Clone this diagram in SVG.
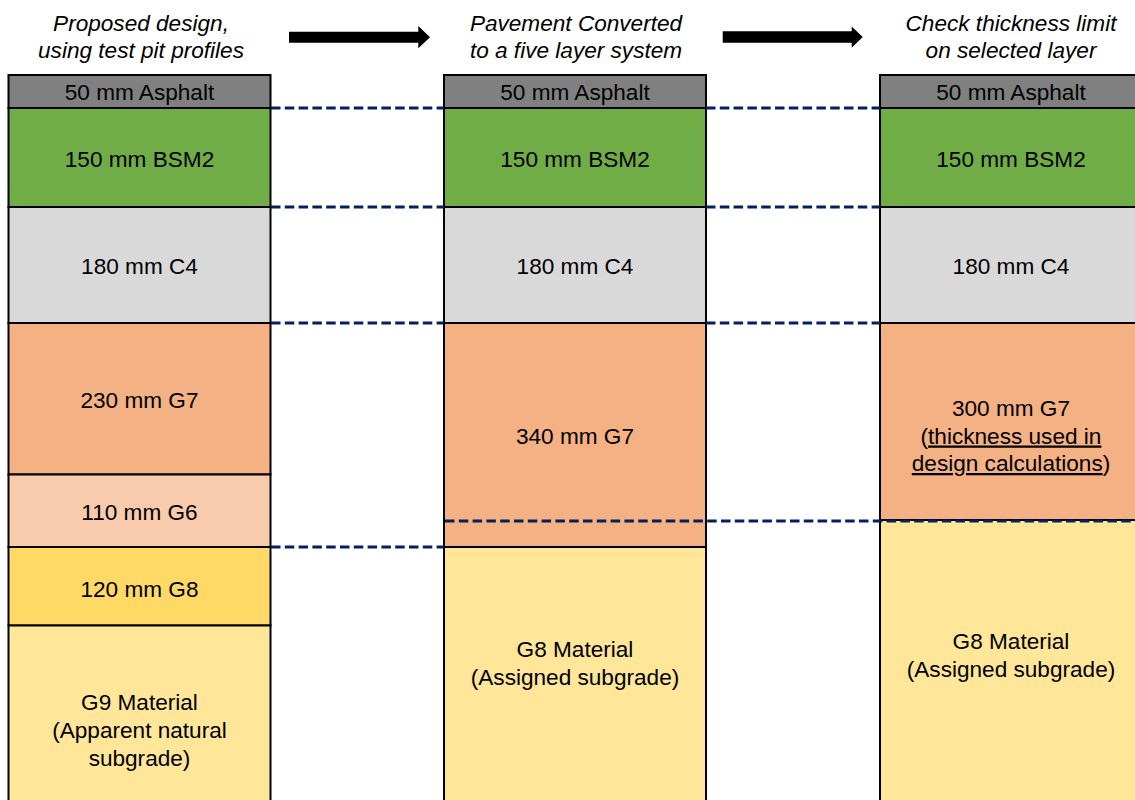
<svg xmlns="http://www.w3.org/2000/svg" width="1135" height="800" viewBox="0 0 1135 800">
  <style>
    .lay { stroke: #000; stroke-width: 2; }
    .t { font-family: "Liberation Sans", Arial, sans-serif; font-size: 22.6px; fill: #000; text-anchor: middle; }
    .h { font-family: "Liberation Sans", Arial, sans-serif; font-size: 22.6px; font-style: italic; fill: #000; text-anchor: middle; }
    .dash { stroke: #002060; stroke-width: 3; stroke-dasharray: 9.5 4.3; fill: none; }
    .u { text-decoration: underline; }
    .asp { fill: #808080; }
    .bsm { fill: #70AD47; }
    .c4 { fill: #D9D9D9; }
    .g7 { fill: #F4B183; }
    .g6 { fill: #F8CBAD; }
    .g8 { fill: #FFD966; }
    .sg { fill: #FFE699; }
  </style>
  <rect x="0" y="0" width="1135" height="800" fill="#fff"/>

  <!-- headers -->
  <g id="header-left">
    <text class="h" x="141" y="31">Proposed design,</text>
    <text class="h" x="141" y="58">using test pit profiles</text>
  </g>
  <g id="header-middle">
    <text class="h" x="576" y="31">Pavement Converted</text>
    <text class="h" x="576" y="58">to a five layer system</text>
  </g>
  <g id="header-right">
    <text class="h" x="1011" y="31">Check thickness limit</text>
    <text class="h" x="1011" y="58">on selected layer</text>
  </g>

  <!-- left column -->
  <g id="left-column">
    <g id="L-asphalt"><rect class="lay asp" x="8.5" y="75" width="262" height="33"/><text class="t" x="139.5" y="100">50 mm Asphalt</text></g>
    <g id="L-bsm2"><rect class="lay bsm" x="8.5" y="108" width="262" height="99"/><text class="t" x="139.5" y="166.5">150 mm BSM2</text></g>
    <g id="L-c4"><rect class="lay c4" x="8.5" y="207" width="262" height="116"/><text class="t" x="139.5" y="274">180 mm C4</text></g>
    <g id="L-g7"><rect class="lay g7" x="8.5" y="323" width="262" height="151.5"/><text class="t" x="139.5" y="408">230 mm G7</text></g>
    <g id="L-g6"><rect class="lay g6" x="8.5" y="474.5" width="262" height="72.5"/><text class="t" x="139.5" y="520">110 mm G6</text></g>
    <g id="L-g8"><rect class="lay g8" x="8.5" y="547" width="262" height="78.5"/><text class="t" x="139.5" y="597">120 mm G8</text></g>
    <g id="L-g9"><rect class="lay sg" x="8.5" y="625.5" width="262" height="180"/>
      <text class="t" x="139.5" y="710">G9 Material</text>
      <text class="t" x="139.5" y="738">(Apparent natural</text>
      <text class="t" x="139.5" y="765.5">subgrade)</text>
    </g>
  </g>

  <!-- middle column -->
  <g id="middle-column">
    <g id="M-asphalt"><rect class="lay asp" x="444" y="75" width="262" height="33"/><text class="t" x="575" y="100">50 mm Asphalt</text></g>
    <g id="M-bsm2"><rect class="lay bsm" x="444" y="108" width="262" height="99"/><text class="t" x="575" y="166.5">150 mm BSM2</text></g>
    <g id="M-c4"><rect class="lay c4" x="444" y="207" width="262" height="116"/><text class="t" x="575" y="274">180 mm C4</text></g>
    <g id="M-g7"><rect class="lay g7" x="444" y="323" width="262" height="224"/><text class="t" x="575" y="444">340 mm G7</text></g>
    <g id="M-g8"><rect class="lay sg" x="444" y="547" width="262" height="258"/>
      <text class="t" x="575" y="657">G8 Material</text>
      <text class="t" x="575" y="684.5">(Assigned subgrade)</text>
    </g>
  </g>

  <!-- right column -->
  <g id="right-column">
    <g id="R-asphalt"><rect class="lay asp" x="880" y="75" width="262" height="33"/><text class="t" x="1011" y="100">50 mm Asphalt</text></g>
    <g id="R-bsm2"><rect class="lay bsm" x="880" y="108" width="262" height="99"/><text class="t" x="1011" y="166.5">150 mm BSM2</text></g>
    <g id="R-c4"><rect class="lay c4" x="880" y="207" width="262" height="116"/><text class="t" x="1011" y="274">180 mm C4</text></g>
    <g id="R-g7"><rect class="lay g7" x="880" y="323" width="262" height="197"/>
      <text class="t" x="1011" y="416">300 mm G7</text>
      <text class="t" x="1011" y="443.5">(<tspan class="u">thickness used in</tspan></text>
      <text class="t" x="1011" y="471"><tspan class="u">design calculations</tspan>)</text>
    </g>
    <g id="R-g8"><rect class="lay sg" x="880" y="520" width="262" height="285"/>
      <text class="t" x="1011" y="649">G8 Material</text>
      <text class="t" x="1011" y="677">(Assigned subgrade)</text>
    </g>
  </g>

  <!-- connectors -->
  <g id="connectors">
    <line class="dash" x1="271" y1="108" x2="444" y2="108"/>
    <line class="dash" x1="706" y1="108" x2="880" y2="108"/>
    <line class="dash" x1="271" y1="207" x2="444" y2="207"/>
    <line class="dash" x1="706" y1="207" x2="880" y2="207"/>
    <line class="dash" x1="271" y1="323" x2="444" y2="323"/>
    <line class="dash" x1="706" y1="323" x2="880" y2="323"/>
    <line class="dash" x1="271" y1="547" x2="444" y2="547"/>
    <line class="dash" x1="445" y1="521" x2="1135" y2="521"/>
    <polygon id="arrow-1" fill="#000" points="289,31.7 418.3,31.7 418.3,26 430,37.2 418.3,48.3 418.3,42.7 289,42.7"/>
    <polygon id="arrow-2" fill="#000" points="722.7,31.3 851.7,31.3 851.7,26.5 862.7,37 851.7,47.7 851.7,42.7 722.7,42.7"/>
  </g>
</svg>
